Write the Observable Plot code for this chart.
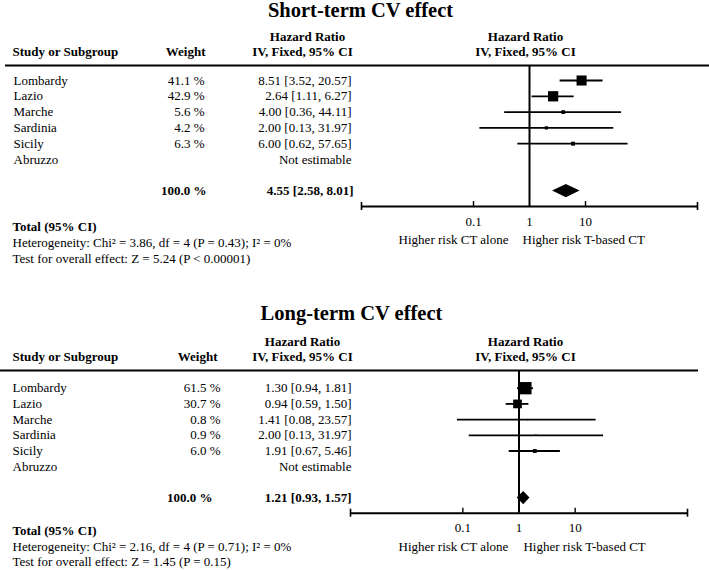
<!DOCTYPE html>
<html><head><meta charset="utf-8">
<script src="https://cdn.jsdelivr.net/npm/d3@7"></script>
<script src="https://cdn.jsdelivr.net/npm/@observablehq/plot@0.6"></script>
<style>
body{margin:0;background:#fff}
#chart svg{display:block}
</style>
</head><body><div id="chart"></div>
<script>
// ---- Data ----
const studies = ["Lombardy", "Lazio", "Marche", "Sardinia", "Sicily", "Abruzzo"];

const shortWeights = [41.1, 42.9, 5.6, 4.2, 6.3, null];
const shortHR      = [8.51, 2.64, 4.00, 2.00, 6.00, null];
const shortLo      = [3.52, 1.11, 0.36, 0.13, 0.62, null];
const shortHi      = [20.57, 6.27, 44.11, 31.97, 57.65, null];
const shortTotal   = [4.55, 2.58, 8.01];   // HR, lower, upper
const shortTotalWeight = 100.0;
const shortStats = [
  "Heterogeneity: Chi\u00B2 = 3.86, df = 4 (P = 0.43); I\u00B2 = 0%",
  "Test for overall effect: Z = 5.24 (P < 0.00001)"
];

const longWeights = [61.5, 30.7, 0.8, 0.9, 6.0, null];
const longHR      = [1.30, 0.94, 1.41, 2.00, 1.91, null];
const longLo      = [0.94, 0.59, 0.08, 0.13, 0.67, null];
const longHi      = [1.81, 1.50, 23.57, 31.97, 5.46, null];
const longTotal   = [1.21, 0.93, 1.57];
const longTotalWeight = 100.0;
const longStats = [
  "Heterogeneity: Chi\u00B2 = 2.16, df = 4 (P = 0.71); I\u00B2 = 0%",
  "Test for overall effect: Z = 1.45 (P = 0.15)"
];

const xDomain = [0.001, 1000];
const tickValues = [0.1, 1, 10];
const minorTicks = [0.1, 10];
const nullEffect = 1;
const dirLabels = ["Higher risk CT alone", "Higher risk T-based CT"];
const headerStudy = "Study or Subgroup";
const headerWeight = "Weight";
const headerHR = ["Hazard Ratio", "IV, Fixed, 95% CI"];
const totalLabel = "Total (95% CI)";

const maxWeight = d3.max([...shortWeights, ...longWeights]);
const fmt2 = v => v.toFixed(2);

function panel(cfg) {
  const rows = studies.map((s, i) => ({study: s, i, w: cfg.w[i], hr: cfg.hr[i], lo: cfg.lo[i], hi: cfg.hi[i]}));
  const est = rows.filter(d => d.hr != null);
  const totalIdx = studies.length + 1;
  const [thr, tlo, thi] = cfg.total;
  const h = 0.42;
  const diamond = [
    {y: totalIdx - h, x1: thr, x2: thr},
    {y: totalIdx, x1: tlo, x2: thi},
    {y: totalIdx + h, x1: thr, x2: thr}
  ];
  const yMin = -cfg.padTop, yMax = totalIdx + cfg.padBottom;
  const ml = cfg.ml;
  const bold = {fontWeight: "bold"};
  return Plot.plot({
    width: 709, height: 285,
    marginLeft: ml, marginRight: cfg.mr, marginTop: cfg.mt, marginBottom: cfg.mb,
    x: {type: "log", domain: xDomain},
    y: {domain: [yMin, yMax], reverse: true, axis: null},
    r: {domain: [0, maxWeight], range: [0, 6.94]},
    style: {fontFamily: "'Liberation Serif', 'Times New Roman', serif", fontSize: "13px", color: "black", background: "white", overflow: "visible"},
    marks: [
      // top rule across the table
      Plot.ruleY([yMin], {strokeWidth: 2, insetLeft: -(ml - cfg.ruleLeft), insetRight: -cfg.ruleRight}),
      // line of no effect
      Plot.ruleX([nullEffect], {strokeWidth: 2}),
      // axis line and ticks
      Plot.ruleY([yMax], {strokeWidth: 2}),
      Plot.ruleX(xDomain, {y1: yMax, y2: yMax, insetTop: -4, insetBottom: -4, strokeWidth: 1.6}),
      Plot.ruleX(minorTicks, {y1: yMax, y2: yMax, insetTop: -5, insetBottom: 0, strokeWidth: 1.4}),
      Plot.axisX({ticks: tickValues, tickSize: 0, tickPadding: 10, tickFormat: d => String(d), fontSize: 13}),
      // direction labels
      Plot.text([dirLabels[0]], {x: () => nullEffect, text: d => d, frameAnchor: "bottom", lineAnchor: "middle", textAnchor: "end", dx: cfg.dirL, dy: cfg.dirY}),
      Plot.text([dirLabels[1]], {x: () => nullEffect, text: d => d, frameAnchor: "bottom", lineAnchor: "middle", textAnchor: "start", dx: cfg.dirR, dy: cfg.dirY}),
      // CIs and squares
      Plot.ruleY(est, {y: "i", x1: "lo", x2: "hi", strokeWidth: 1.8}),
      Plot.dot(est, {x: "hr", y: "i", r: "w", symbol: "square", fill: "black", stroke: null}),
      Plot.areaX(diamond, {y: "y", x1: "x1", x2: "x2", fill: "black"}),
      // title
      Plot.text([cfg.title], {text: d => d, frameAnchor: "top-left", textAnchor: "middle", lineAnchor: "middle", dx: cfg.titleX - ml, dy: cfg.titleDy, fontSize: 20.5, ...bold}),
      // headers
      Plot.text([headerStudy], {text: d => d, frameAnchor: "top-left", textAnchor: "start", lineAnchor: "middle", dx: cfg.studyHX - ml, dy: -14, ...bold}),
      Plot.text([headerWeight], {text: d => d, frameAnchor: "top-left", textAnchor: "end", lineAnchor: "middle", dx: cfg.weightHX - ml, dy: -14, ...bold}),
      Plot.text([headerHR[0]], {text: d => d, frameAnchor: "top-left", textAnchor: "middle", lineAnchor: "middle", dx: cfg.hrHX[0] - ml, dy: -29, ...bold}),
      Plot.text([headerHR[1]], {text: d => d, frameAnchor: "top-left", textAnchor: "middle", lineAnchor: "middle", dx: cfg.hrHX[1] - ml, dy: -14, ...bold}),
      Plot.text([headerHR[0]], {text: d => d, frameAnchor: "top-left", textAnchor: "middle", lineAnchor: "middle", dx: cfg.plotHX - ml, dy: -29, ...bold}),
      Plot.text([headerHR[1]], {text: d => d, frameAnchor: "top-left", textAnchor: "middle", lineAnchor: "middle", dx: cfg.plotHX - ml, dy: -14, ...bold}),
      // table rows
      Plot.text(rows, {y: "i", text: "study", frameAnchor: "left", textAnchor: "start", lineAnchor: "middle", dx: cfg.nameX - ml}),
      Plot.text(est, {y: "i", text: d => d.w.toFixed(1) + " %", frameAnchor: "left", textAnchor: "end", lineAnchor: "middle", dx: cfg.weightX - ml}),
      Plot.text(rows, {y: "i", text: d => d.hr == null ? "Not estimable" : `${fmt2(d.hr)} [${fmt2(d.lo)}, ${fmt2(d.hi)}]`, frameAnchor: "left", textAnchor: "end", lineAnchor: "middle", dx: cfg.hrX - ml}),
      // total row
      Plot.text([{i: totalIdx, w: cfg.totalWeight}], {y: "i", text: d => d.w.toFixed(1) + " %", frameAnchor: "left", textAnchor: "end", lineAnchor: "middle", dx: cfg.totalWX - ml, ...bold}),
      Plot.text([{i: totalIdx}], {y: "i", text: () => `${fmt2(thr)} [${fmt2(tlo)}, ${fmt2(thi)}]`, frameAnchor: "left", textAnchor: "end", lineAnchor: "middle", dx: cfg.totalHrX - ml, ...bold}),
      // footnotes
      Plot.text([totalLabel], {text: d => d, frameAnchor: "bottom-left", textAnchor: "start", lineAnchor: "middle", dx: cfg.noteX - ml, dy: cfg.noteY[0], ...bold}),
      Plot.text([cfg.stats[0]], {text: d => d, frameAnchor: "bottom-left", textAnchor: "start", lineAnchor: "middle", dx: cfg.noteX - ml, dy: cfg.noteY[1]}),
      Plot.text([cfg.stats[1]], {text: d => d, frameAnchor: "bottom-left", textAnchor: "start", lineAnchor: "middle", dx: cfg.noteX - ml, dy: cfg.noteY[2]})
    ]
  });
}

const chart = document.getElementById("chart");
chart.append(panel({
  title: "Short-term CV effect",
  w: shortWeights, hr: shortHR, lo: shortLo, hi: shortHi, total: shortTotal, totalWeight: shortTotalWeight, stats: shortStats,
  ml: 361, mr: 12, mt: 65, mb: 79, ruleLeft: 5, ruleRight: 12,
  padTop: 0.949, padBottom: 0.975,
  titleX: 360, titleDy: -54.8,
  studyHX: 12, weightHX: 205, hrHX: [307, 302], plotHX: 525,
  nameX: 13, weightX: 204, totalWX: 206, hrX: 351, totalHrX: 353,
  noteX: 12, noteY: [20, 36, 52],
  dirL: -21, dirR: -7, dirY: 33
}));
chart.append(panel({
  title: "Long-term CV effect",
  w: longWeights, hr: longHR, lo: longLo, hi: longHi, total: longTotal, totalWeight: longTotalWeight, stats: longStats,
  ml: 350, mr: 22, mt: 85, mb: 57.3, ruleLeft: 0, ruleRight: 11,
  padTop: 1.127, padBottom: 0.96,
  titleX: 351, titleDy: -57.3,
  studyHX: 12, weightHX: 217, hrHX: [302, 302], plotHX: 525,
  nameX: 12, weightX: 220, totalWX: 212, hrX: 351, totalHrX: 351,
  noteX: 12, noteY: [18, 34, 49],
  dirL: -10.6, dirR: 4.4, dirY: 34
}));
</script>
</body></html>
